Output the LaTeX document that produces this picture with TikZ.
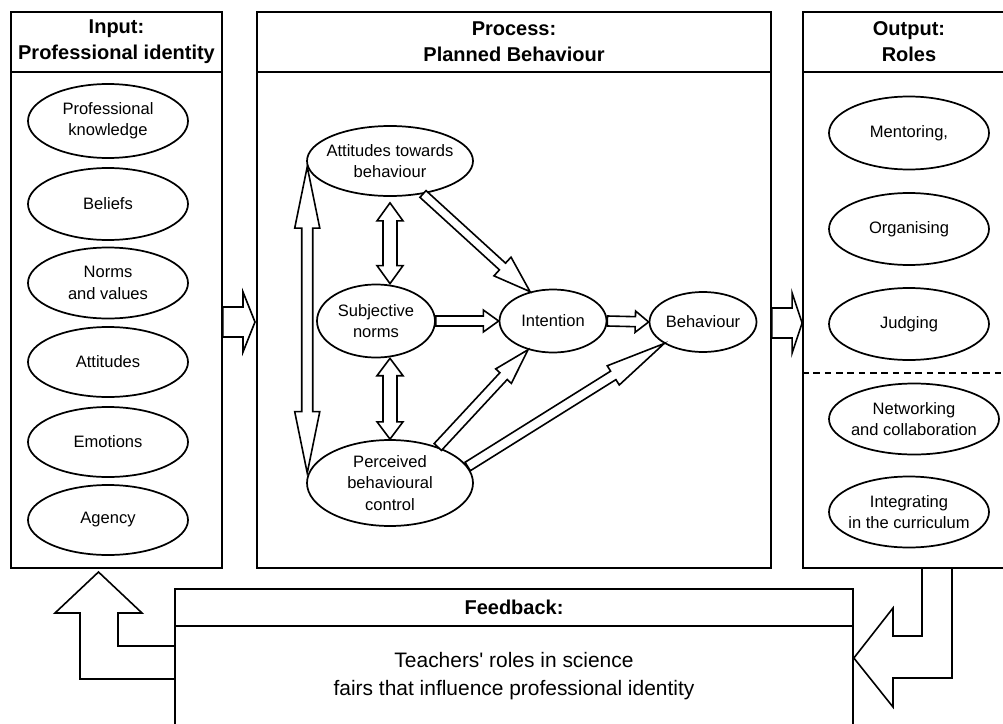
\documentclass[tikz,border=0pt]{standalone}
\usepackage{fontspec}
\setmainfont{Liberation Sans}
\usetikzlibrary{calc,shapes.geometric,fit}
\tikzset{
  lw/.style={line width=1.3pt},
  box/.style={draw, line width=1.3pt, inner sep=0pt},
  ell/.style={ellipse, draw, line width=1.3pt, inner ysep=0pt, inner xsep=-10pt, align=center,
    font=\fontsize{12.4}{16}\selectfont},
  es/.style 2 args={minimum width=#1*0.75pt, minimum height=#2*0.75pt},
  hdr/.style={align=center, font=\fontsize{15}{19.5}\selectfont\bfseries},
  blk/.style={draw, line width=1.2pt, fill=white, line join=miter},
}
% single block arrow: from, to, shaft half width, head half width, head length
\newcommand\blockarrow[5]{%
  \draw[blk] ($(#1)!#3!90:(#2)$)
    -- ($(#2)!#5!(#1)!#3!-90:(#1)$)
    -- ($(#2)!#5!(#1)!#4!-90:(#1)$)
    -- (#2)
    -- ($(#2)!#5!(#1)!#4!90:(#1)$)
    -- ($(#2)!#5!(#1)!#3!90:(#1)$)
    -- ($(#1)!#3!-90:(#2)$) -- cycle;}
% double block arrow
\newcommand\dblockarrow[5]{%
  \draw[blk] (#1)
    -- ($(#1)!#5!(#2)!#4!90:(#2)$)
    -- ($(#1)!#5!(#2)!#3!90:(#2)$)
    -- ($(#2)!#5!(#1)!#3!-90:(#1)$)
    -- ($(#2)!#5!(#1)!#4!-90:(#1)$)
    -- (#2)
    -- ($(#2)!#5!(#1)!#4!90:(#1)$)
    -- ($(#2)!#5!(#1)!#3!90:(#1)$)
    -- ($(#1)!#5!(#2)!#3!-90:(#2)$)
    -- ($(#1)!#5!(#2)!#4!-90:(#2)$) -- cycle;}
\begin{document}
\begin{tikzpicture}[x=0.75pt, y=-0.75pt]
\useasboundingbox (0,0) rectangle (1003,724);
\clip (0,0) rectangle (1003,724);

% ---------- boxes ----------
\node[box, fit={(11,12)(222,568)}] (inbox) {};
\node[box, fit={(257,12)(771,568)}] (procbox) {};
\node[box, fit={(803,12)(1015,568)}] (outbox) {};
\node[box, fit={(175,589)(853,760)}] (fbbox) {};
\draw[lw] (inbox.west |- 0,72) -- (inbox.east |- 0,72);
\draw[lw] (procbox.west |- 0,72) -- (procbox.east |- 0,72);
\draw[lw] (outbox.west |- 0,72) -- (outbox.east |- 0,72);
\draw[lw] (fbbox.west |- 0,626) -- (fbbox.east |- 0,626);
\draw[lw, dash pattern=on 5pt off 3.5pt] (outbox.west |- 0,373) -- (outbox.east |- 0,373);

% ---------- headers ----------
\node[hdr] (inhdr) at (116.5,42) {Input:\\Professional identity};
\node[hdr] (prochdr) at (514,42) {Process:\\Planned Behaviour};
\node[hdr] (outhdr) at (909,42) {Output:\\Roles};
\node[hdr] (fbhdr) at (514,607) {Feedback:};
\node[align=center, font=\fontsize{15.7}{21}\selectfont] (fbtxt) at (514,676)
  {Teachers\textquotesingle{} roles in science\\fairs that influence professional identity};

% ---------- input ellipses ----------
\node[ell, es={160}{74}] (pk) at (108,121) {Professional\\knowledge};
\node[ell, es={160}{72}] (bel) at (108,204) {Beliefs};
\node[ell, es={160}{71}] (nv) at (108,283) {Norms\\and values};
\node[ell, es={160}{70}] (atti) at (108,362) {Attitudes};
\node[ell, es={160}{70}] (emo) at (108,442) {Emotions};
\node[ell, es={160}{70}] (agc) at (108,520) {Agency};

% ---------- output ellipses ----------
\node[ell, es={160}{73}] (men) at (909,133) {Mentoring,};
\node[ell, es={160}{72}] (org) at (909,229) {Organising};
\node[ell, es={160}{72}] (jud) at (909,324) {Judging};
\node[ell, es={170}{71}] (net) at (914,419) {Networking\\and collaboration};
\node[ell, es={160}{71}] (intg) at (909,512) {Integrating\\in the curriculum};

% ---------- process ellipses ----------
\node[ell, es={166}{70}] (att) at (390,161) {Attitudes towards\\behaviour};
\node[ell, es={118}{73}] (subj) at (376,321) {Subjective\\norms};
\node[ell, es={107}{63}] (int) at (553,321) {Intention};
\node[ell, es={107}{60}] (beh) at (703,322) {Behaviour};
\node[ell, es={166}{86}] (per) at (390,483) {Perceived\\behavioural\\control};

% ---------- process arrows ----------
\blockarrow{subj.east}{int.west}{3.75pt}{8.25pt}{11.5pt}
\blockarrow{int.east}{beh.west}{3.75pt}{8pt}{10pt}
\blockarrow{att.-45}{int.128}{3.4pt}{9.5pt}{28pt}
\blockarrow{per.37}{int.229}{3.75pt}{8pt}{27pt}
\blockarrow{per.12}{beh.209}{3.75pt}{8.5pt}{45pt}

\coordinate (asb) at ($(att.south)+(0,6)$);
\coordinate (sbt) at (asb |- subj.north);
\dblockarrow{asb}{sbt}{5.25pt}{9.75pt}{13.5pt}
\coordinate (pnt) at (per.north);
\coordinate (sbb) at (pnt |- subj.south);
\dblockarrow{sbb}{pnt}{5.25pt}{9.75pt}{13pt}

\coordinate (ltop) at (att.184);
\coordinate (lbot) at (ltop |- per.173);
\dblockarrow{ltop}{lbot}{4.1pt}{9.4pt}{46pt}

% ---------- arrows between boxes ----------
\coordinate (a1s) at (inbox.east |- 0,322);
\coordinate (a1e) at (255,322);
\blockarrow{a1s}{a1e}{11.25pt}{22.5pt}{9pt}
\coordinate (a2s) at (procbox.east |- 0,323);
\coordinate (a2e) at (outbox.west |- 0,323);
\blockarrow{a2s}{a2e}{11.25pt}{22.5pt}{7.5pt}

% feedback -> input
\draw[blk, fill=none] (fbbox.west |- 0,646) -- (118,646) -- (118,613) -- (142,613)
  -- (98.5,572) -- (55,613) -- (80,613) -- (80,679) -- (fbbox.west |- 0,679);
% output -> feedback
\draw[blk, fill=none] (outbox.south -| 922,0) -- (922,636) -- (893,636) -- (893,608)
  -- (fbbox.east |- 0,658) -- (893,707) -- (893,678) -- (952,678) -- (outbox.south -| 952,0);
\end{tikzpicture}
\end{document}
